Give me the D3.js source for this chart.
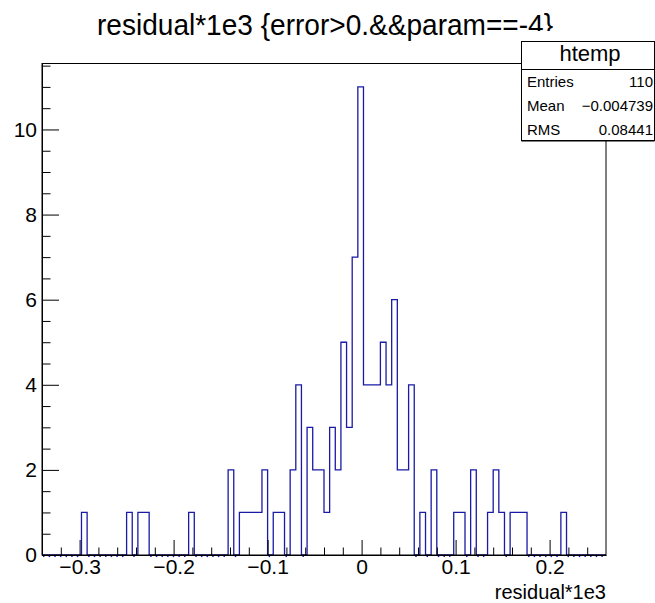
<!DOCTYPE html>
<html>
<head>
<meta charset="utf-8">
<script src="https://cdn.jsdelivr.net/npm/d3@7/dist/d3.min.js"></script>
<style>
  html, body { margin: 0; padding: 0; background: #fff; }
  svg { display: block; }
  text { font-family: "Liberation Sans", Arial, Helvetica, sans-serif; }
</style>
</head>
<body>
<svg id="chart" width="655" height="603"></svg>
<script>
// ---- data ----
const histName = "htemp";
const titleText = "residual*1e3 {error>0.&&param==-4}";
const xTitle = "residual*1e3";
const xMin = -0.34, xMax = 0.26, binWidth = 0.006;   // 100 bins
const counts = [
  0,0,0,0,0,0,0,1,0,0,
  0,0,0,0,0,1,0,1,1,0,
  0,0,0,0,0,0,1,0,0,0,
  0,0,0,2,0,1,1,1,1,2,
  0,1,1,0,2,4,0,3,2,2,
  1,3,2,5,3,7,11,4,4,4,
  5,4,6,2,2,4,0,1,0,2,
  0,0,0,1,1,0,2,0,0,1,
  2,1,0,1,1,1,0,0,0,0,
  0,0,1,0,0,0,0,0,0,0
];
const yMax = 11.55;
const xMajorTicks = [-0.3, -0.2, -0.1, 0, 0.1, 0.2];
const xTickLabels = ["\u22120.3", "\u22120.2", "\u22120.1", "0", "0.1", "0.2"];
const xMinorTicks = [-0.32,-0.28,-0.26,-0.24,-0.22,-0.18,-0.16,-0.14,-0.12,-0.08,-0.06,-0.04,-0.02,0.02,0.04,0.06,0.08,0.12,0.14,0.16,0.18,0.22,0.24];
const yMajorTicks = [0, 2, 4, 6, 8, 10];
const yMinorTicks = [0.5,1,1.5,2.5,3,3.5,4.5,5,5.5,6.5,7,7.5,8.5,9,9.5,10.5,11,11.5];
const statLabels = ["Entries", "Mean", "RMS"];
const statValues = ["110", "\u22120.004739", "0.08441"];

// ---- layout ----
const frame = {left: 42, right: 606, top: 63.5, bottom: 555};
const svg = d3.select("#chart");

const x = d3.scaleLinear().domain([xMin, xMax]).range([frame.left, frame.right]);
const y = d3.scaleLinear().domain([0, yMax]).range([frame.bottom, frame.top]);

// title (drawn first; its end is partly hidden by the stats box)
svg.append("text").attr("x", 97).attr("y", 35).attr("font-size", 30)
  .attr("textLength", 456).attr("lengthAdjust", "spacingAndGlyphs").text(titleText);

// blue dotted trace of the empty bins just under the axis
counts.forEach((c, i) => {
  if (c === 0) {
    svg.append("line")
      .attr("x1", x(xMin + i * binWidth) + 1).attr("x2", x(xMin + (i + 1) * binWidth) - 1)
      .attr("y1", frame.bottom + 1.5).attr("y2", frame.bottom + 1.5)
      .attr("stroke", "#1a1aa6").attr("stroke-width", 1.2).attr("stroke-dasharray", "1.5,2.2");
  }
});

// histogram outline
const pts = [[xMin, 0]];
counts.forEach((c, i) => pts.push([xMin + i * binWidth, c]));
pts.push([xMax, counts[counts.length - 1]]);
pts.push([xMax, 0]);
const line = d3.line().x(d => x(d[0])).y(d => y(d[1])).curve(d3.curveStepAfter);
svg.append("path")
  .attr("d", line(pts))
  .attr("fill", "none")
  .attr("stroke", "#1a1aa6")
  .attr("stroke-width", 1.3);

// frame (top & right)
svg.append("rect")
  .attr("x", frame.left).attr("y", frame.top)
  .attr("width", frame.right - frame.left).attr("height", frame.bottom - frame.top)
  .attr("fill", "none").attr("stroke", "#000").attr("stroke-width", 1);

// x axis
const xAxisMajor = d3.axisBottom(x).tickValues(xMajorTicks)
  .tickFormat((d, i) => xTickLabels[i]).tickSizeInner(-15).tickSizeOuter(0).tickPadding(4);
const gx = svg.append("g").attr("transform", `translate(0,${frame.bottom})`).call(xAxisMajor);
gx.selectAll("text").attr("font-size", 21).attr("font-family", "Liberation Sans, Arial, sans-serif").attr("fill", "#000");
gx.select(".domain").attr("stroke", "#000");
const xAxisMinor = d3.axisBottom(x).tickValues(xMinorTicks).tickFormat("").tickSizeInner(-7.5).tickSizeOuter(0);
const gx2 = svg.append("g").attr("transform", `translate(0,${frame.bottom})`).call(xAxisMinor);
gx2.select(".domain").remove();

// y axis
const yAxisMajor = d3.axisLeft(y).tickValues(yMajorTicks)
  .tickFormat(d3.format("d")).tickSizeInner(-17).tickSizeOuter(0).tickPadding(5);
const gy = svg.append("g").attr("transform", `translate(${frame.left},0)`).call(yAxisMajor);
gy.selectAll("text").attr("font-size", 21).attr("font-family", "Liberation Sans, Arial, sans-serif").attr("fill", "#000");
gy.select(".domain").attr("stroke", "#000");
const yAxisMinor = d3.axisLeft(y).tickValues(yMinorTicks).tickFormat("").tickSizeInner(-8.5).tickSizeOuter(0);
const gy2 = svg.append("g").attr("transform", `translate(${frame.left},0)`).call(yAxisMinor);
gy2.select(".domain").remove();

// x axis title
svg.append("text").attr("x", 606).attr("y", 599).attr("text-anchor", "end")
  .attr("font-size", 20).text(xTitle);

// stats box (its white area reaches a little above its border and hides the title end)
svg.append("rect").attr("x", 521).attr("y", 31).attr("width", 134).attr("height", 11).attr("fill", "#fff");
const sb = {x: 521.5, y: 41.5, w: 133, h: 99};
svg.append("rect").attr("x", sb.x).attr("y", sb.y).attr("width", sb.w).attr("height", sb.h)
  .attr("fill", "#fff").attr("stroke", "#000").attr("stroke-width", 1);
svg.append("line").attr("x1", sb.x).attr("x2", sb.x + sb.w).attr("y1", sb.y + sb.h + 0.5).attr("y2", sb.y + sb.h + 0.5)
  .attr("stroke", "#000").attr("stroke-width", 1);
svg.append("line").attr("x1", sb.x).attr("x2", sb.x + sb.w).attr("y1", 69.5).attr("y2", 69.5)
  .attr("stroke", "#000").attr("stroke-width", 1);
svg.append("text").attr("x", 590).attr("y", 61).attr("text-anchor", "middle")
  .attr("font-size", 22).text(histName);
const rowY = [87, 111, 135];
statLabels.forEach((l, i) => {
  svg.append("text").attr("x", 527).attr("y", rowY[i]).attr("font-size", 15).text(l);
  svg.append("text").attr("x", 653).attr("y", rowY[i]).attr("text-anchor", "end").attr("font-size", 15).text(statValues[i]);
});
</script>
</body>
</html>
